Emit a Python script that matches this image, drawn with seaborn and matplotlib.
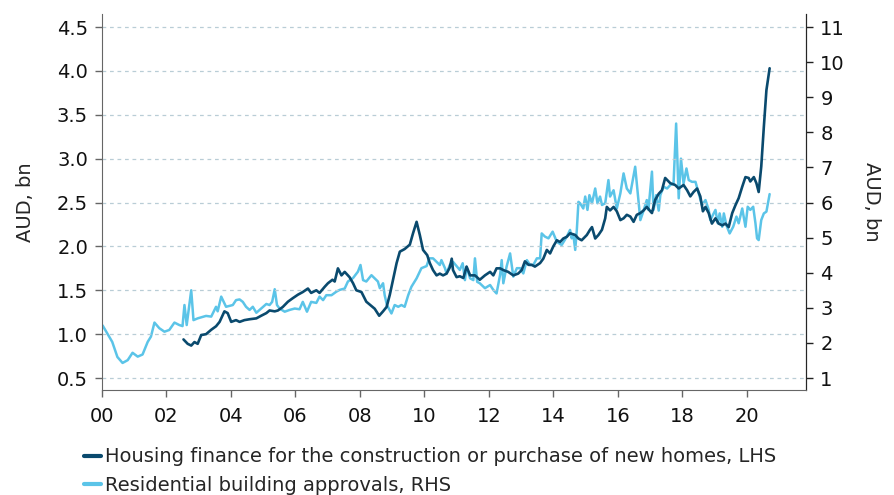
import pandas as pd
import seaborn as sns
import matplotlib
matplotlib.use("Agg")
import matplotlib.pyplot as plt

# years since 2000 (decimal) and values
dark_years = [2.53, 2.66, 2.77, 2.87, 2.97, 3.08, 3.23, 3.39, 3.54, 3.65, 3.80, 3.90,
              4.01, 4.16, 4.27, 4.42, 4.58, 4.79, 4.94, 5.10, 5.20, 5.36, 5.46, 5.61,
              5.77, 5.92, 6.08, 6.23, 6.39, 6.49, 6.65, 6.75, 6.91, 7.01, 7.15, 7.22,
              7.32, 7.43, 7.53, 7.68, 7.79, 7.89, 8.05, 8.20, 8.36, 8.46, 8.60, 8.72,
              8.83, 8.93, 9.03, 9.14, 9.24, 9.39, 9.55, 9.65, 9.76, 9.86, 9.96, 10.09,
              10.17, 10.27, 10.38, 10.48, 10.58, 10.69, 10.79, 10.85, 10.89, 11.00, 11.10, 11.21,
              11.31, 11.42, 11.57, 11.72, 11.88, 12.04, 12.14, 12.24, 12.35, 12.45, 12.60, 12.76,
              12.91, 13.02, 13.12, 13.23, 13.33, 13.43, 13.59, 13.69, 13.80, 13.90, 14.00, 14.11,
              14.21, 14.31, 14.42, 14.52, 14.68, 14.78, 14.88, 15.04, 15.14, 15.20, 15.30, 15.40,
              15.51, 15.61, 15.66, 15.76, 15.87, 15.97, 16.08, 16.18, 16.28, 16.39, 16.49, 16.59,
              16.70, 16.80, 16.90, 17.01, 17.06, 17.16, 17.27, 17.37, 17.47, 17.63, 17.78, 17.89,
              18.04, 18.15, 18.25, 18.35, 18.46, 18.56, 18.64, 18.72, 18.82, 18.92, 19.03, 19.13,
              19.24, 19.34, 19.44, 19.55, 19.65, 19.75, 19.86, 19.96, 20.06, 20.11, 20.22, 20.30,
              20.37, 20.45, 20.53, 20.61, 20.71]
dark_vals = [0.94, 0.89, 0.87, 0.91, 0.89, 0.99, 1.00, 1.05, 1.09, 1.14, 1.26, 1.24,
             1.14, 1.16, 1.14, 1.16, 1.17, 1.18, 1.21, 1.24, 1.27, 1.26, 1.27, 1.31,
             1.37, 1.41, 1.45, 1.48, 1.52, 1.47, 1.50, 1.47, 1.54, 1.58, 1.62, 1.60,
             1.75, 1.67, 1.71, 1.65, 1.58, 1.50, 1.48, 1.37, 1.32, 1.29, 1.21, 1.26,
             1.31, 1.45, 1.62, 1.81, 1.94, 1.97, 2.02, 2.15, 2.28, 2.13, 1.96, 1.90,
             1.81, 1.73, 1.67, 1.69, 1.67, 1.69, 1.76, 1.86, 1.73, 1.65, 1.66, 1.64,
             1.77, 1.67, 1.67, 1.62, 1.67, 1.71, 1.67, 1.75, 1.75, 1.73, 1.71, 1.67,
             1.69, 1.73, 1.83, 1.79, 1.79, 1.77, 1.81, 1.86, 1.96, 1.92, 2.00, 2.07,
             2.05, 2.09, 2.11, 2.15, 2.13, 2.09, 2.07, 2.13, 2.19, 2.22, 2.09, 2.13,
             2.19, 2.32, 2.45, 2.41, 2.45, 2.40, 2.30, 2.32, 2.36, 2.34, 2.28, 2.36,
             2.38, 2.41, 2.45, 2.40, 2.38, 2.53, 2.60, 2.64, 2.78, 2.72, 2.70, 2.66,
             2.70, 2.64, 2.57, 2.62, 2.66, 2.57, 2.40, 2.45, 2.38, 2.26, 2.32, 2.26,
             2.24, 2.26, 2.22, 2.38, 2.47, 2.55, 2.68, 2.79, 2.78, 2.74, 2.79, 2.72,
             2.62, 2.91, 3.36, 3.78, 4.03]

light_years = [0.02, 0.32, 0.48, 0.64, 0.80, 0.95, 1.11, 1.26, 1.42, 1.52, 1.63, 1.78,
               1.94, 2.09, 2.25, 2.40, 2.50, 2.56, 2.63, 2.77, 2.84, 2.97, 3.23, 3.39,
               3.54, 3.59, 3.70, 3.85, 4.06, 4.16, 4.27, 4.37, 4.47, 4.58, 4.68, 4.79,
               4.94, 5.10, 5.20, 5.28, 5.36, 5.43, 5.51, 5.67, 5.82, 5.98, 6.13, 6.23,
               6.36, 6.49, 6.65, 6.75, 6.86, 6.96, 7.12, 7.27, 7.37, 7.53, 7.63, 7.79,
               7.94, 8.02, 8.10, 8.20, 8.36, 8.46, 8.56, 8.62, 8.72, 8.77, 8.84, 8.98,
               9.08, 9.19, 9.29, 9.39, 9.50, 9.60, 9.76, 9.91, 10.07, 10.15, 10.27, 10.38,
               10.48, 10.53, 10.64, 10.69, 10.79, 10.89, 11.00, 11.10, 11.19, 11.26, 11.31, 11.42,
               11.52, 11.57, 11.64, 11.72, 11.88, 12.04, 12.14, 12.24, 12.35, 12.40, 12.45, 12.55,
               12.66, 12.76, 12.87, 12.97, 13.07, 13.18, 13.28, 13.38, 13.49, 13.59, 13.64, 13.74,
               13.85, 13.98, 14.11, 14.26, 14.42, 14.52, 14.57, 14.62, 14.68, 14.73, 14.78, 14.83,
               14.93, 14.99, 15.06, 15.12, 15.20, 15.30, 15.37, 15.45, 15.51, 15.61, 15.71, 15.76,
               15.87, 15.97, 16.08, 16.18, 16.28, 16.39, 16.54, 16.61, 16.70, 16.80, 16.90, 16.95,
               17.06, 17.11, 17.19, 17.27, 17.32, 17.42, 17.53, 17.63, 17.73, 17.81, 17.89, 17.96,
               18.04, 18.13, 18.20, 18.30, 18.41, 18.51, 18.61, 18.72, 18.82, 18.87, 19.03, 19.10,
               19.16, 19.24, 19.29, 19.37, 19.47, 19.58, 19.68, 19.75, 19.86, 19.96, 20.03, 20.11,
               20.20, 20.27, 20.32, 20.37, 20.45, 20.53, 20.61, 20.71]
light_vals = [2.50, 2.03, 1.60, 1.43, 1.51, 1.72, 1.61, 1.67, 2.03, 2.18, 2.58, 2.42,
              2.32, 2.37, 2.58, 2.51, 2.48, 3.08, 2.51, 3.50, 2.65, 2.70, 2.77, 2.75,
              3.03, 2.90, 3.32, 3.03, 3.08, 3.22, 3.24, 3.17, 3.03, 2.94, 3.03, 2.86,
              2.98, 3.11, 3.08, 3.17, 3.53, 3.08, 2.98, 2.89, 2.94, 2.98, 2.96, 3.17,
              2.89, 3.17, 3.14, 3.32, 3.22, 3.36, 3.36, 3.46, 3.51, 3.55, 3.75, 3.85,
              4.03, 4.22, 3.79, 3.75, 3.93, 3.84, 3.75, 3.56, 3.70, 3.36, 3.08, 2.84,
              3.08, 3.03, 3.08, 3.03, 3.36, 3.60, 3.84, 4.13, 4.19, 4.41, 4.41, 4.31,
              4.22, 4.36, 4.13, 3.98, 4.22, 4.31, 4.19, 4.08, 4.27, 3.79, 4.17, 3.84,
              3.79, 4.41, 3.74, 3.70, 3.56, 3.65, 3.51, 3.41, 3.94, 4.36, 3.70, 4.17,
              4.55, 3.89, 4.13, 4.13, 3.98, 4.36, 4.22, 4.22, 4.41, 4.41, 5.12, 5.03,
              4.98, 5.17, 4.88, 4.79, 5.03, 5.22, 4.98, 5.10, 4.65, 5.22, 6.02, 5.98,
              5.83, 6.17, 5.79, 6.21, 5.98, 6.40, 5.98, 6.17, 5.93, 5.98, 6.64, 6.17,
              6.35, 5.83, 6.26, 6.83, 6.40, 6.26, 7.02, 6.35, 5.50, 5.77, 6.07, 5.79,
              6.88, 5.79, 6.21, 5.77, 6.21, 6.45, 6.40, 6.50, 6.54, 8.25, 6.12, 7.25,
              6.54, 6.97, 6.64, 6.59, 6.59, 6.26, 5.93, 6.07, 5.79, 5.50, 5.79, 5.41,
              5.69, 5.31, 5.69, 5.35, 5.12, 5.31, 5.60, 5.41, 5.83, 5.31, 5.88, 5.79,
              5.88, 5.41, 4.98, 4.93, 5.50, 5.69, 5.74, 6.24]

year_ticks = list(range(2000, 2021, 2))
year_labels = ["00", "02", "04", "06", "08", "10", "12", "14", "16", "18", "20"]
lhs_ticks = [0.5, 1.0, 1.5, 2.0, 2.5, 3.0, 3.5, 4.0, 4.5]
rhs_ticks = list(range(1, 12))

dark_name = "Housing finance for the construction or purchase of new homes, LHS"
light_name = "Residential building approvals, RHS"
dark_col = "#0a4a6e"
light_col = "#5bc4e8"

df_dark = pd.DataFrame({"year": [2000 + y for y in dark_years], "value": dark_vals})
df_light = pd.DataFrame({"year": [2000 + y for y in light_years], "value": light_vals})

sns.set_style("white")
plt.rcParams["font.family"] = ["DejaVu Sans"]
fs = 14

fig = plt.figure(figsize=(8.94, 4.95), dpi=100)
ax = fig.add_axes([0.114, 0.212, 0.788, 0.76])
ax2 = ax.twinx()

sns.lineplot(data=df_light, x="year", y="value", ax=ax2, color=light_col, lw=1.8,
             label=light_name, legend=False)
sns.lineplot(data=df_dark, x="year", y="value", ax=ax, color=dark_col, lw=1.9,
             label=dark_name, legend=False)
ax.set_zorder(ax2.get_zorder() + 1)
ax.patch.set_visible(False)

ax.set_xlim(2000, 2021.85)
ax.set_ylim(0.363, 4.65)
ax2.set_ylim(1 + (0.363 - 0.5) * 2.5, 1 + (4.65 - 0.5) * 2.5)

ax.set_xticks(year_ticks)
ax.set_xticklabels(year_labels)
ax.set_yticks(lhs_ticks)
ax.set_yticklabels([f"{v:.1f}" for v in lhs_ticks])
ax2.set_yticks(rhs_ticks)

ax.grid(axis="y", color="#b9cdd6", linestyle=(0, (3, 3)), lw=0.9)
ax.grid(axis="x", visible=False)
ax2.grid(False)

for a in (ax, ax2):
    a.spines["top"].set_visible(False)
    a.set_xlabel("")
ax.spines["left"].set_color("#666666")
ax.spines["bottom"].set_color("#666666")
ax2.spines["right"].set_color("#222222")
ax2.spines["left"].set_visible(False)
ax2.spines["bottom"].set_visible(False)

ax.tick_params(axis="both", labelsize=fs, length=5, width=1, colors="#666666",
               labelcolor="#111111", pad=5, direction="out")
ax.tick_params(axis="y", left=True)
ax.tick_params(axis="x", bottom=True, pad=7)
ax2.tick_params(axis="y", labelsize=fs, length=5, width=1, colors="#222222",
                labelcolor="#111111", pad=5, direction="out", right=True)

ax.set_ylabel("AUD, bn", fontsize=fs, labelpad=16)
ax2.set_ylabel("AUD, bn", fontsize=fs, rotation=270, labelpad=26)

h1, l1 = ax.get_legend_handles_labels()
h2, l2 = ax2.get_legend_handles_labels()
leg = fig.legend(h1 + h2, l1 + l2, loc="lower left", bbox_to_anchor=(0.085, -0.016),
                 frameon=False, fontsize=fs, handlelength=0.9, handletextpad=0.2,
                 labelspacing=0.5, borderaxespad=0)
for line in leg.get_lines():
    line.set_linewidth(3)

fig.savefig("out.png", dpi=100)
